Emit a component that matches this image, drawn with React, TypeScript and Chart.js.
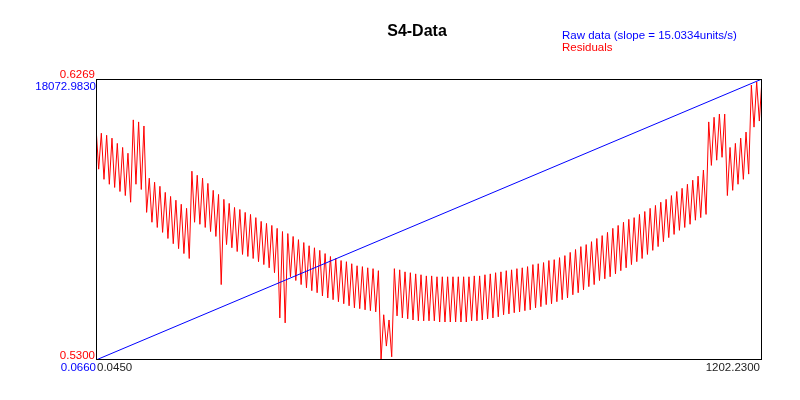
import React, { useEffect, useRef } from 'react';
import { Chart, registerables } from 'chart.js';

Chart.register(...registerables);

const TITLE = 'S4-Data';
const RAW_LABEL = 'Raw data (slope = 15.0334units/s)';
const RES_LABEL = 'Residuals';

const X_RANGE = [0.045, 1202.23];
const RES_RANGE = [0.53, 0.6269];
const RAW_RANGE = [0.066, 18072.983];

const xTickLabels = ['0.0450', '1202.2300'];
const resTickLabels = ['0.5300', '0.6269'];
const rawTickLabels = ['0.0660', '18072.9830'];

// Raw data: straight line
const rawTimes = [0.045, 1202.23];
const rawValues = [0.066, 18072.983];

// Residuals: local maxima and minima of each sawtooth cycle
const residualPeaks = [
  0.6103, 0.6082, 0.6075, 0.6065, 0.6047, 0.6033, 0.6013, 0.6128, 0.6121, 0.6107,
  0.5927, 0.5913, 0.5899, 0.5878, 0.5864, 0.5851, 0.5837, 0.5823, 0.5951, 0.5937,
  0.5927, 0.5909, 0.5885, 0.5871, 0.5854, 0.5840, 0.5826, 0.5819, 0.5809, 0.5802,
  0.5791, 0.5778, 0.5771, 0.5764, 0.5754, 0.5743, 0.5736, 0.5726, 0.5715, 0.5705,
  0.5694, 0.5687, 0.5678, 0.5667, 0.5657, 0.5650, 0.5643, 0.5639, 0.5632, 0.5625,
  0.5622, 0.5618, 0.5615, 0.5608, 0.5456, 0.5438, 0.5615, 0.5611, 0.5604, 0.5601,
  0.5597, 0.5594, 0.5590, 0.5590, 0.5587, 0.5587, 0.5587, 0.5587, 0.5587, 0.5587,
  0.5587, 0.5590, 0.5590, 0.5594, 0.5597, 0.5601, 0.5604, 0.5608, 0.5611, 0.5615,
  0.5618, 0.5622, 0.5629, 0.5632, 0.5636, 0.5643, 0.5646, 0.5653, 0.5660, 0.5671,
  0.5681, 0.5691, 0.5698, 0.5708, 0.5719, 0.5729, 0.5740, 0.5754, 0.5764, 0.5775,
  0.5785, 0.5791, 0.5802, 0.5812, 0.5823, 0.5833, 0.5844, 0.5854, 0.5867, 0.5881,
  0.5892, 0.5906, 0.5920, 0.5934, 0.5955, 0.6121, 0.6137, 0.6148, 0.6148, 0.6033,
  0.6047, 0.6065, 0.6086, 0.6248, 0.6259, 0.6269,
];

const residualTroughs = [
  0.5958, 0.5923, 0.5906, 0.5895, 0.5881, 0.5867, 0.5844, 0.5906, 0.5888, 0.5809,
  0.5775, 0.5757, 0.5740, 0.5719, 0.5701, 0.5684, 0.5667, 0.5650, 0.5775, 0.5768,
  0.5757, 0.5743, 0.5726, 0.5560, 0.5698, 0.5687, 0.5674, 0.5664, 0.5657, 0.5650,
  0.5639, 0.5629, 0.5618, 0.5601, 0.5445, 0.5428, 0.5587, 0.5574, 0.5560, 0.5549,
  0.5539, 0.5532, 0.5521, 0.5514, 0.5508, 0.5501, 0.5494, 0.5487, 0.5480, 0.5477,
  0.5473, 0.5470, 0.5466, 0.5300, 0.5348, 0.5311, 0.5452, 0.5445, 0.5442, 0.5438,
  0.5435, 0.5435, 0.5435, 0.5435, 0.5431, 0.5431, 0.5431, 0.5431, 0.5431, 0.5431,
  0.5435, 0.5435, 0.5438, 0.5442, 0.5445, 0.5449, 0.5456, 0.5459, 0.5463, 0.5466,
  0.5470, 0.5473, 0.5480, 0.5484, 0.5491, 0.5494, 0.5501, 0.5508, 0.5514, 0.5525,
  0.5532, 0.5542, 0.5553, 0.5560, 0.5574, 0.5580, 0.5587, 0.5597, 0.5608, 0.5618,
  0.5629, 0.5639, 0.5650, 0.5664, 0.5678, 0.5691, 0.5708, 0.5722, 0.5733, 0.5747,
  0.5757, 0.5768, 0.5782, 0.5791, 0.5802, 0.5971, 0.5989, 0.5999, 0.5867, 0.5885,
  0.5906, 0.5923, 0.5941, 0.6103, 0.6124,
];

function buildResiduals() {
  const pts: { x: number; y: number }[] = [];
  const n = residualPeaks.length + residualTroughs.length - 1;
  const step = (X_RANGE[1] - X_RANGE[0]) / n;
  let j = 0;
  for (let k = 0; k < residualPeaks.length; k++) {
    pts.push({ x: X_RANGE[0] + step * j++, y: residualPeaks[k] });
    if (k < residualTroughs.length) {
      pts.push({ x: X_RANGE[0] + step * j++, y: residualTroughs[k] });
    }
  }
  return pts;
}

const FONT = '"Liberation Sans", Arial, sans-serif';

const overlayPlugin = {
  id: 'overlay',
  afterDraw(chart: any) {
    const { ctx, chartArea: a } = chart;
    ctx.save();
    ctx.strokeStyle = '#000000';
    ctx.lineWidth = 1;
    ctx.strokeRect(a.left + 0.5, a.top + 0.5, a.right - a.left - 1, a.bottom - a.top - 1);

    ctx.font = `11.5px ${FONT}`;
    ctx.textBaseline = 'alphabetic';

    ctx.textAlign = 'right';
    ctx.fillStyle = '#ff0000';
    ctx.fillText(resTickLabels[1], a.left - 1, a.top - 1);
    ctx.fillText(resTickLabels[0], a.left - 1, a.bottom - 1);
    ctx.fillStyle = '#0000ff';
    ctx.fillText(rawTickLabels[1], a.left, a.top + 11);
    ctx.fillText(rawTickLabels[0], a.left, a.bottom + 11);

    ctx.fillStyle = '#222222';
    ctx.textAlign = 'left';
    ctx.fillText(xTickLabels[0], a.left + 1, a.bottom + 11);
    ctx.textAlign = 'right';
    ctx.fillText(xTickLabels[1], a.right - 2, a.bottom + 11);

    ctx.textAlign = 'left';
    ctx.fillStyle = '#0000ff';
    ctx.fillText(RAW_LABEL, 562, 39);
    ctx.fillStyle = '#ff0000';
    ctx.fillText(RES_LABEL, 562, 51);

    ctx.font = `bold 16px ${FONT}`;
    ctx.fillStyle = '#000000';
    ctx.textAlign = 'center';
    ctx.fillText(TITLE, 417, 36);
    ctx.restore();
  },
};

export default function App() {
  const ref = useRef<HTMLCanvasElement | null>(null);
  useEffect(() => {
    if (!ref.current) return;
    const chart = new Chart(ref.current, {
      type: 'line',
      data: {
        datasets: [
          {
            label: RAW_LABEL,
            data: rawTimes.map((t, i) => ({ x: t, y: rawValues[i] })),
            yAxisID: 'y2',
            borderColor: '#0000ff',
            borderWidth: 1,
            pointRadius: 0,
            tension: 0,
            fill: false,
          },
          {
            label: RES_LABEL,
            data: buildResiduals(),
            yAxisID: 'y',
            borderColor: '#ff0000',
            borderWidth: 1,
            pointRadius: 0,
            tension: 0,
            fill: false,
          },
        ],
      },
      options: {
        responsive: false,
        animation: false,
        events: [],
        layout: { padding: { left: 96, right: 38, top: 79, bottom: 40 } },
        plugins: {
          legend: { display: false },
          title: { display: false },
          tooltip: { enabled: false },
        },
        scales: {
          x: { type: 'linear', min: X_RANGE[0], max: X_RANGE[1], display: false },
          y: { type: 'linear', min: RES_RANGE[0], max: RES_RANGE[1], display: false },
          y2: { type: 'linear', min: RAW_RANGE[0], max: RAW_RANGE[1], display: false },
        },
      },
      plugins: [overlayPlugin],
    });
    return () => chart.destroy();
  }, []);

  return (
    <div style={{ position: 'absolute', left: 0, top: 0, width: 800, height: 400, background: '#fff' }}>
      <canvas ref={ref} width={800} height={400} style={{ width: 800, height: 400, display: 'block' }} />
    </div>
  );
}
